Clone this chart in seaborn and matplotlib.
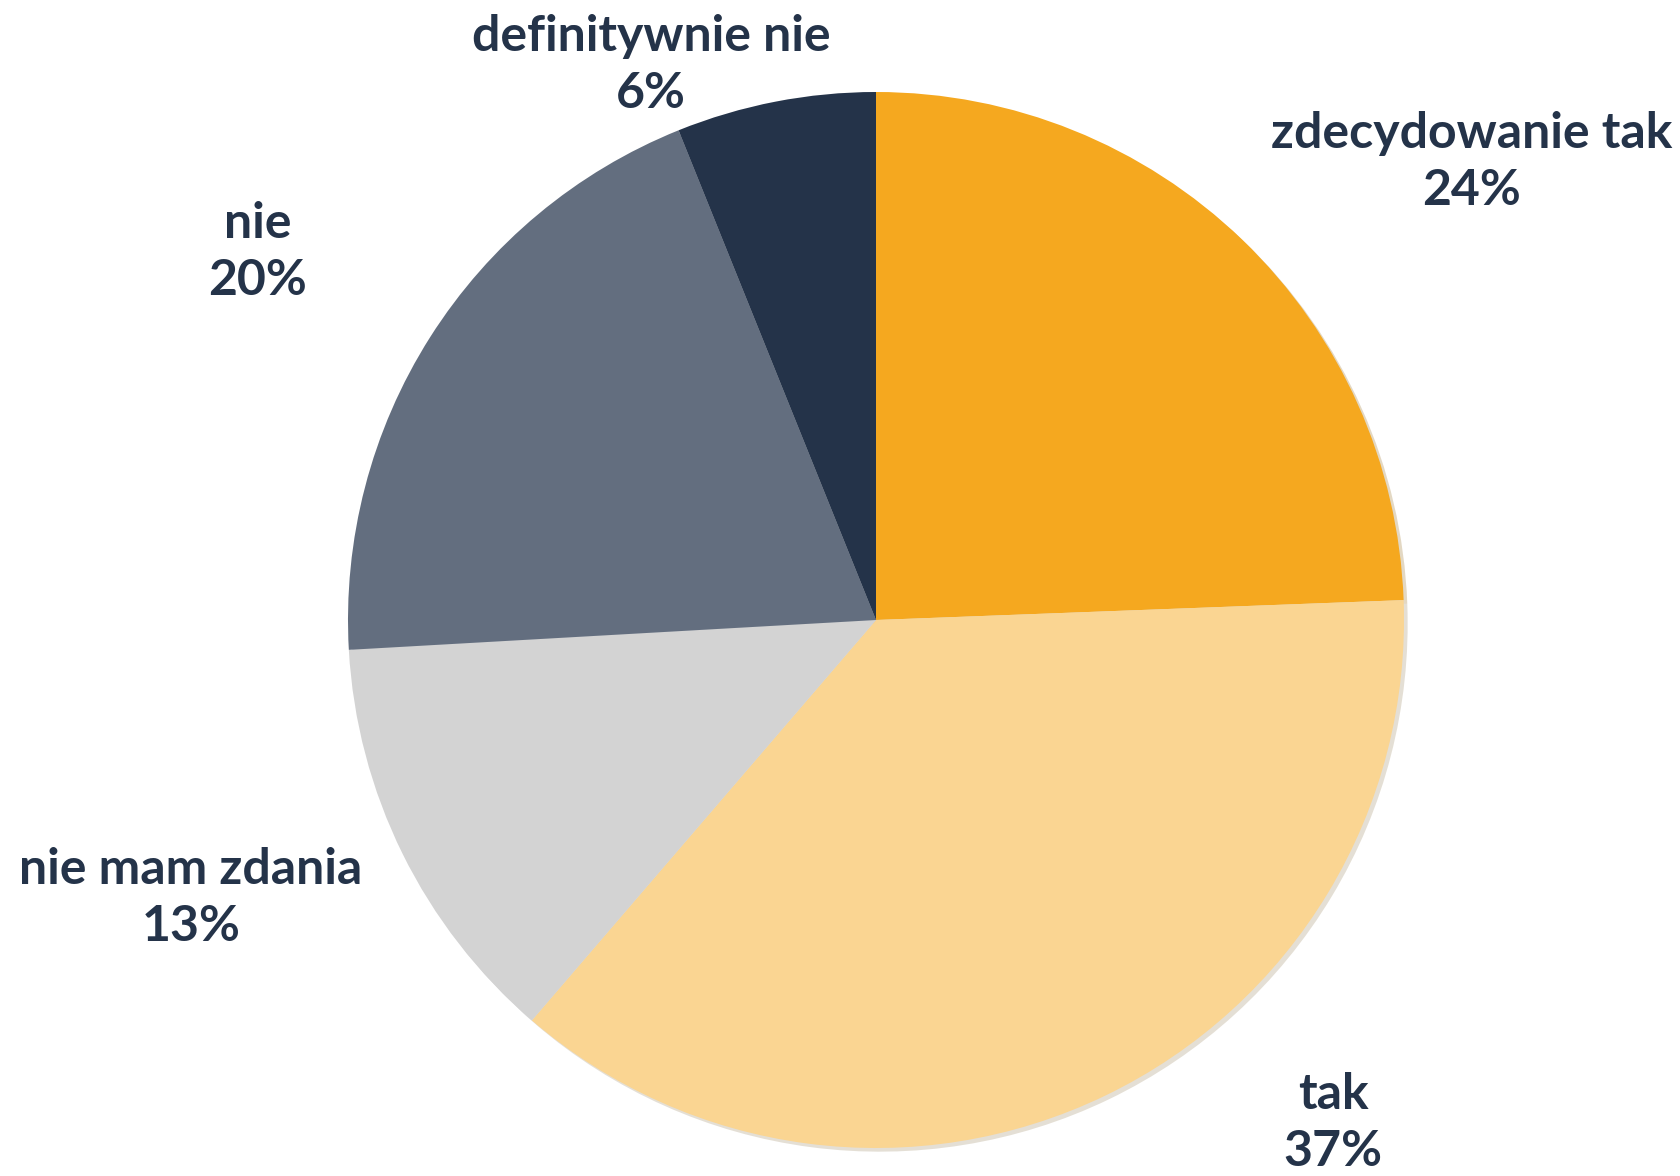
import matplotlib
matplotlib.use('Agg')
import matplotlib.pyplot as plt
import seaborn as sns

# survey answers, clockwise from the top
answers = ['zdecydowanie tak', 'tak', 'nie mam zdania', 'nie', 'definitywnie nie']
shares = [24.4, 36.9, 12.8, 19.8, 6.1]
colors = ['#F5A81F', '#FAD592', '#D3D3D3', '#636E7F', '#243349']

# label centres in pixels of the 1681x1176 canvas
label_px = [(1472, 162), (1333, 1123), (191, 898), (258, 252), (651, 65)]

sns.set_theme(style='white')
plt.rcParams['font.family'] = ['Lato', 'DejaVu Sans']

W, H = 1681, 1176
fig = plt.figure(figsize=(W / 100, H / 100), dpi=100)
cx, cy, r = 876, 620, 528
ax = fig.add_axes([(cx - r) / W, (H - cy - r) / H, 2 * r / W, 2 * r / H])

ax.pie(shares, colors=sns.color_palette(colors), startangle=90, counterclock=False,
       radius=1, wedgeprops=dict(linewidth=0),
       shadow=dict(ox=0.005, oy=-0.005, shade=0.4, alpha=0.25))
ax.set_xlim(-1, 1)
ax.set_ylim(-1, 1)
ax.set_aspect('equal')
ax.axis('off')

for name, val, (px, py) in zip(answers, shares, label_px):
    fig.text(px / W, 1 - py / H, f'{name}\n{round(val):d}%', ha='center', va='center',
             fontsize=36, fontweight='bold', color='#243349', linespacing=1.3)

fig.savefig('out.png', dpi=100, facecolor='white')
